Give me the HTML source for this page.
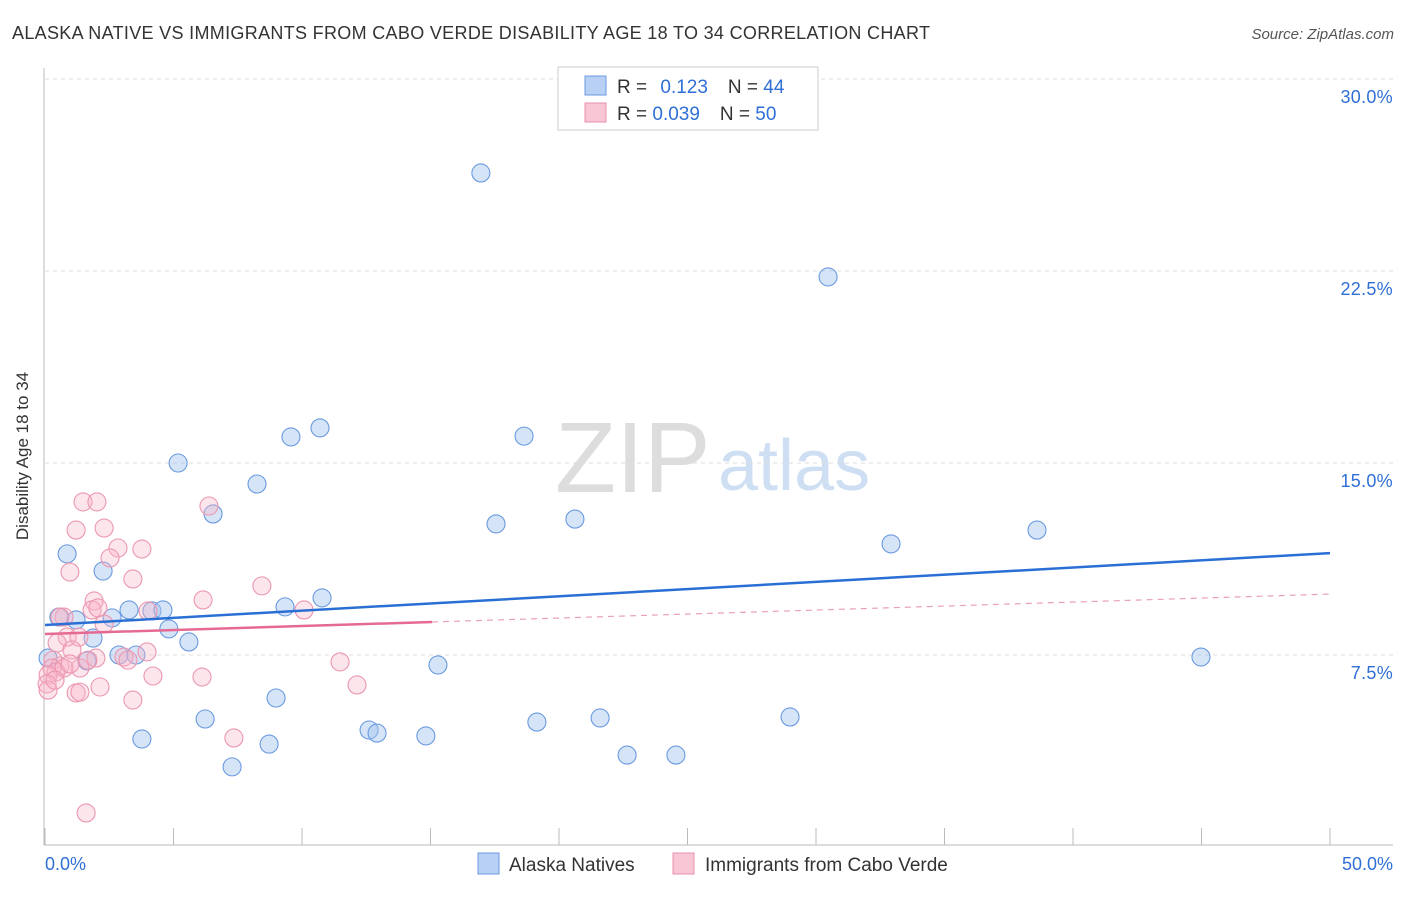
<!DOCTYPE html>
<html><head><meta charset="utf-8"><style>
body{margin:0;background:#fff;font-family:"Liberation Sans",sans-serif}
svg text{font-family:"Liberation Sans",sans-serif}
</style></head><body>
<svg width="1406" height="892" xmlns="http://www.w3.org/2000/svg">
<text x="12" y="39" font-size="18" fill="#333" textLength="918" lengthAdjust="spacing">ALASKA NATIVE VS IMMIGRANTS FROM CABO VERDE DISABILITY AGE 18 TO 34 CORRELATION CHART</text>
<text x="1394" y="39" font-size="15" fill="#555" text-anchor="end" font-style="italic">Source: ZipAtlas.com</text>
<text x="28" y="456" font-size="17" fill="#333" text-anchor="middle" transform="rotate(-90 28 456)">Disability Age 18 to 34</text>
<text x="555" y="492" font-size="100" fill="#ddd" font-family="Liberation Serif">ZIP</text>
<text x="718" y="490" font-size="72" fill="#cfdff3">atlas</text>
<g id="grid"></g>
<g id="pts"></g>
<g id="lines"></g>
<g>
<rect x="558" y="67" width="260" height="63" fill="#fff" stroke="#ccc"/>
<rect x="585" y="76" width="21" height="19" fill="#b7d0f4" stroke="#6a9ae0"/>
<rect x="585" y="103" width="21" height="19" fill="#f9c6d5" stroke="#e890aa"/>
<text x="617" y="93" font-size="19" fill="#333">R = <tspan fill="#2f6fd6" dx="8">0.123</tspan><tspan dx="20">N = </tspan><tspan fill="#2f6fd6">44</tspan></text>
<text x="617" y="120" font-size="19" fill="#333">R = <tspan fill="#2f6fd6">0.039</tspan><tspan dx="20">N = </tspan><tspan fill="#2f6fd6">50</tspan></text>
</g>
<g>
<rect x="478" y="853" width="21" height="21" fill="#b7d0f4" stroke="#6a9ae0"/>
<text x="509" y="871" font-size="19" fill="#333">Alaska Natives</text>
<rect x="673" y="853" width="21" height="21" fill="#f9c6d5" stroke="#e890aa"/>
<text x="705" y="871" font-size="19" fill="#333">Immigrants from Cabo Verde</text>
</g>
</svg>
<script>
const yTicks=[7.5,15,22.5,30];
const yTickLabels=["7.5%","15.0%","22.5%","30.0%"];
const xTicks=[0,5,10,15,20,25,30,35,40,45,50];
const blueX=[16.96,30.47,10.70,9.57,18.64,5.18,8.25,6.54,17.55,20.62,32.92,38.6,0.86,2.26,10.78,9.34,3.27,4.16,4.59,0.54,1.21,2.61,4.82,1.87,5.60,2.88,3.54,1.63,15.29,44.98,0.12,8.99,6.23,21.6,19.14,28.99,12.61,12.92,14.82,3.77,8.72,7.28,22.65,24.55];
const blueY=[26.33,22.27,16.37,16.02,16.05,15.0,14.18,13.01,12.62,12.81,11.84,12.38,11.45,10.78,9.73,9.38,9.26,9.22,9.26,8.98,8.87,8.95,8.52,8.16,8.01,7.5,7.5,7.27,7.11,7.42,7.38,5.82,5.0,5.04,4.88,5.08,4.57,4.45,4.34,4.22,4.02,3.13,3.59,3.59];
const pinkX=[1.48,2.02,6.38,1.21,2.30,2.84,3.77,2.53,0.97,3.42,8.44,6.15,1.91,1.83,4.01,2.06,10.08,0.74,0.58,2.30,0.86,1.32,0.47,1.05,3.97,3.07,3.23,0.31,1.98,11.48,0.58,0.27,1.36,0.43,0.12,0.08,4.20,6.11,12.14,2.14,1.21,1.36,0.12,3.42,7.35,1.60,0.74,0.39,1.67,0.97];
const pinkY=[13.48,13.48,13.32,12.38,12.46,11.68,11.64,11.29,10.74,10.47,10.20,9.65,9.61,9.26,9.22,9.34,9.26,8.98,8.98,8.71,8.20,8.20,7.97,7.70,7.62,7.42,7.30,7.30,7.38,7.23,7.07,6.99,6.99,6.84,6.72,6.37,6.68,6.64,6.33,6.25,6.02,6.05,6.13,5.74,4.26,1.33,6.99,6.52,7.30,7.15];
const blueTrend=[8.67,11.48];
const pinkTrend=[8.32,9.88];
const pinkSolidEnd=15.06;
const NS="http://www.w3.org/2000/svg";
const X=v=>45+v*25.7, Y=v=>847-v*25.6;
function mk(t,a,p){const e=document.createElementNS(NS,t);for(const k in a)e.setAttribute(k,a[k]);p.appendChild(e);return e;}
const g=document.getElementById('grid');
yTicks.forEach((t,i)=>{
 const l=mk('line',{x1:45,x2:1393,y1:Y(t),y2:Y(t),stroke:'#ddd','stroke-dasharray':'4,4'},g);
 
 
 const tx=mk('text',{x:1393,y:Y(t)+24,'font-size':18,fill:'#2f6fd6','text-anchor':'end','letter-spacing':'0.3'},g);tx.textContent=yTickLabels[i];
 
 
});
mk('line',{x1:44,x2:44,y1:68,y2:845,stroke:'#bbb'},g);
mk('line',{x1:44,x2:1393,y1:845,y2:845,stroke:'#bbb'},g);
xTicks.forEach(t=>{const l=mk('line',{x1:X(t),x2:X(t),y1:828,y2:845,stroke:'#bbb'},g);
 
 });
let t0=mk('text',{x:45,y:870,'font-size':18,fill:'#2f6fd6'},g);t0.textContent='0.0%';


let t1=mk('text',{x:1393,y:870,'font-size':18,fill:'#2f6fd6','text-anchor':'end'},g);t1.textContent='50.0%';


const p=document.getElementById('pts');
blueX.forEach((x,i)=>{const c=mk('circle',{cx:X(x),cy:Y(blueY[i]),r:9,fill:'rgba(164,196,240,0.45)',stroke:'#6a9ae0','stroke-width':1.1},p);
 
 });
pinkX.forEach((x,i)=>{const c=mk('circle',{cx:X(x),cy:Y(pinkY[i]),r:9,fill:'rgba(248,180,200,0.35)',stroke:'#eb97b0','stroke-width':1.1},p);
 
 });
const L=document.getElementById('lines');
const pv=x=>pinkTrend[0]+(pinkTrend[1]-pinkTrend[0])*x/50;
let a=mk('line',{x1:X(0),y1:Y(blueTrend[0]),x2:X(50),y2:Y(blueTrend[1]),stroke:'#2a6fd4','stroke-width':2.5},L);


let b=mk('line',{x1:X(0),y1:Y(pv(0)),x2:X(pinkSolidEnd),y2:Y(pv(pinkSolidEnd)),stroke:'#e56a93','stroke-width':2.5},L);


let c=mk('line',{x1:X(pinkSolidEnd),y1:Y(pv(pinkSolidEnd)),x2:X(50),y2:Y(pv(50)),stroke:'#eaa0b8','stroke-width':1.2,'stroke-dasharray':'6,5'},L);


</script>
</body></html>
